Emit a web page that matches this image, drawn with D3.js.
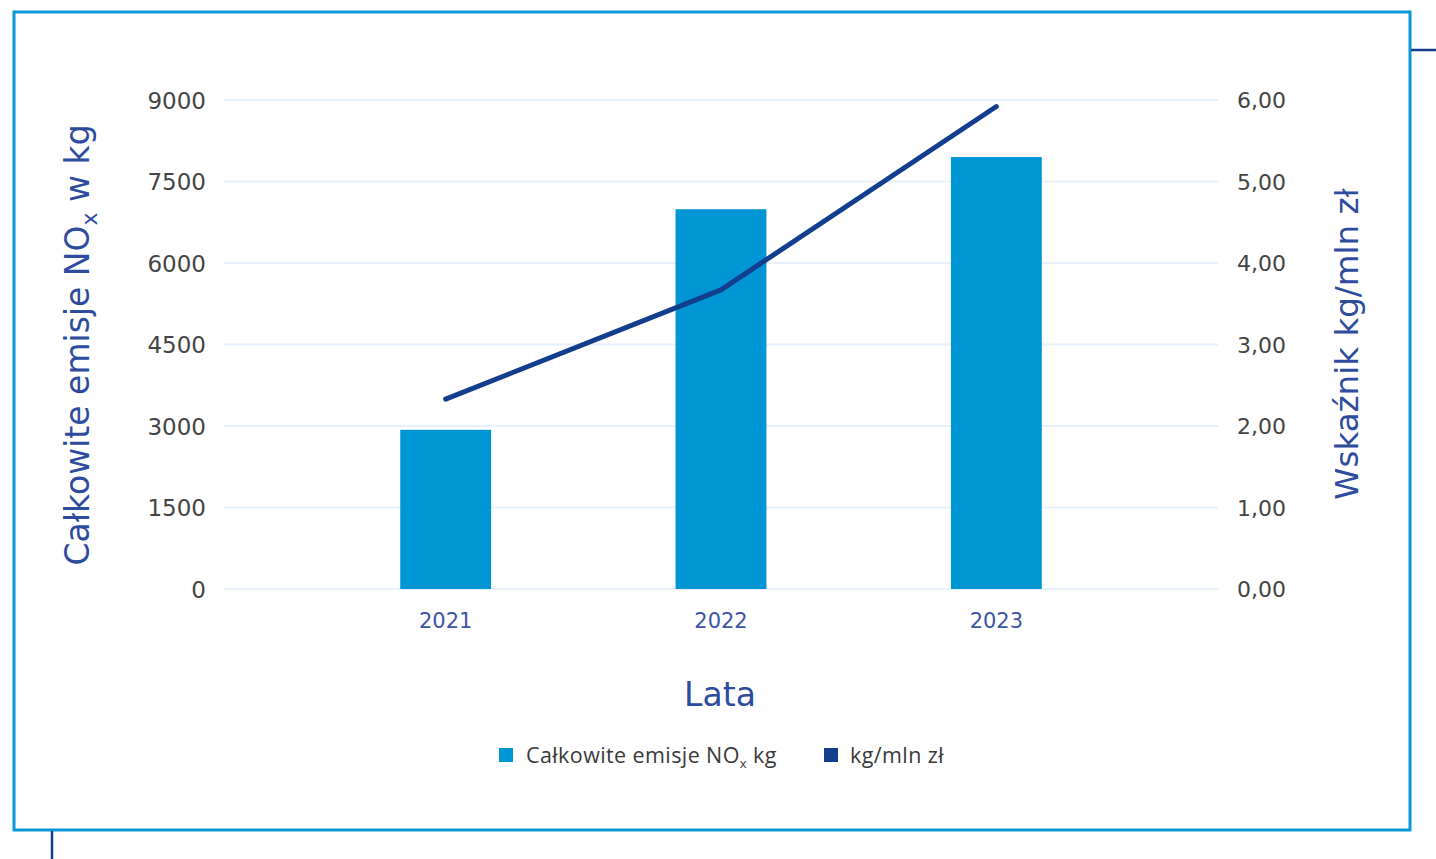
<!DOCTYPE html>
<html>
<head>
<meta charset="utf-8">
<script src="https://cdn.jsdelivr.net/npm/d3@7/dist/d3.min.js"></script>
<style>
  html, body { margin: 0; padding: 0; background: #fff; }
  svg { display: block; }
</style>
</head>
<body>
<svg id="chart" width="1436" height="859"></svg>
<script>
// Lata i wartości emisji NOx
const years = ["2021", "2022", "2023"];
const totalEmissions = [2930, 6990, 7950];     // kg
const intensity = [2.33, 3.67, 5.92];          // kg/mln zł
const leftTicks = [0, 1500, 3000, 4500, 6000, 7500, 9000];
const rightTicks = [0, 1, 2, 3, 4, 5, 6];

const barColor = "#0096d6";
const lineColor = "#133d8d";
const titleColor = "#2e4c9e";
const tickColor = "#444";
const font = "'DejaVu Sans', sans-serif";

const svg = d3.select("#chart");

// Frame
svg.append("rect")
  .attr("x", 14).attr("y", 12).attr("width", 1396).attr("height", 818)
  .attr("fill", "none").attr("stroke", "#0a98d8").attr("stroke-width", 3);
svg.append("line").attr("x1", 1411).attr("x2", 1436).attr("y1", 50).attr("y2", 50)
  .attr("stroke", lineColor).attr("stroke-width", 2.5);
svg.append("line").attr("x1", 52).attr("x2", 52).attr("y1", 831).attr("y2", 859)
  .attr("stroke", lineColor).attr("stroke-width", 2.5);

const plotLeft = 224, plotRight = 1218, plotTop = 100, plotBottom = 589;

const x = d3.scaleBand().domain(years).range([plotLeft, plotRight])
  .paddingInner(0.67).paddingOuter(0.64);
const yLeft = d3.scaleLinear().domain([0, 9000]).range([plotBottom, plotTop]);
const yRight = d3.scaleLinear().domain([0, 6]).range([plotBottom, plotTop]);

// Grid lines
svg.append("g").selectAll("line").data(leftTicks).join("line")
  .attr("x1", plotLeft).attr("x2", plotRight)
  .attr("y1", d => yLeft(d)).attr("y2", d => yLeft(d))
  .attr("stroke", "#e8f1fb").attr("stroke-width", 2);

// Left axis
const leftAxis = svg.append("g").attr("transform", `translate(${plotLeft - 18},0)`)
  .call(d3.axisLeft(yLeft).tickValues(leftTicks).tickSize(0).tickPadding(0).tickFormat(d3.format("d")));
leftAxis.select(".domain").remove();
leftAxis.selectAll("text").attr("font-family", font).attr("font-size", 23)
  .attr("fill", tickColor).attr("dy", "0.36em");

// Right axis
const rightAxis = svg.append("g").attr("transform", `translate(${plotRight + 19},0)`)
  .call(d3.axisRight(yRight).tickValues(rightTicks).tickSize(0).tickPadding(0)
    .tickFormat(d => d3.format(".2f")(d).replace(".", ",")));
rightAxis.select(".domain").remove();
rightAxis.selectAll("text").attr("font-family", font).attr("font-size", 22)
  .attr("fill", tickColor).attr("dy", "0.36em");

// Bottom axis
const bottomAxis = svg.append("g").attr("transform", `translate(0,${plotBottom})`)
  .call(d3.axisBottom(x).tickSize(0).tickPadding(0));
bottomAxis.select(".domain").remove();
bottomAxis.selectAll("text").attr("font-family", font).attr("font-size", 21)
  .attr("fill", "#3d55a5").attr("dy", "1.85em");

// Bars
svg.append("g").selectAll("rect").data(years).join("rect")
  .attr("x", d => x(d))
  .attr("y", (d, i) => yLeft(totalEmissions[i]))
  .attr("width", x.bandwidth())
  .attr("height", (d, i) => yLeft(0) - yLeft(totalEmissions[i]))
  .attr("fill", barColor);

// Line
const line = d3.line()
  .x((d, i) => x(years[i]) + x.bandwidth() / 2)
  .y(d => yRight(d));
svg.append("path").datum(intensity)
  .attr("d", line)
  .attr("fill", "none").attr("stroke", lineColor)
  .attr("stroke-width", 5).attr("stroke-linecap", "round").attr("stroke-linejoin", "round");

// Axis titles
const leftTitle = svg.append("text")
  .attr("transform", `translate(89,345) rotate(-90)`)
  .attr("text-anchor", "middle").attr("font-family", font).attr("font-size", 33)
  .attr("fill", titleColor);
leftTitle.append("tspan").text("Całkowite emisje NO");
leftTitle.append("tspan").attr("font-size", 22).attr("dy", 8).text("x");
leftTitle.append("tspan").attr("dy", -8).text(" w kg");

svg.append("text")
  .attr("transform", `translate(1358,344) rotate(-90)`)
  .attr("text-anchor", "middle").attr("font-family", font).attr("font-size", 32.5)
  .attr("fill", titleColor).text("Wskaźnik kg/mln zł");

svg.append("text")
  .attr("x", (plotLeft + plotRight) / 2 - 1).attr("y", 706)
  .attr("text-anchor", "middle").attr("font-family", font).attr("font-size", 33)
  .attr("fill", titleColor).text("Lata");

// Legend
const legend = svg.append("g").attr("font-family", "'Open Sans', sans-serif").attr("font-size", 21.5).attr("fill", "#3a3a3a");
legend.append("rect").attr("x", 499).attr("y", 748).attr("width", 14).attr("height", 14).attr("fill", barColor);
const lt = legend.append("text").attr("x", 526).attr("y", 763).attr("letter-spacing", 0.4);
lt.append("tspan").text("Całkowite emisje NO");
lt.append("tspan").attr("font-size", 13).attr("dy", 5).text("x");
lt.append("tspan").attr("dy", -5).text(" kg");
legend.append("rect").attr("x", 824).attr("y", 748).attr("width", 14).attr("height", 14).attr("fill", lineColor);
legend.append("text").attr("x", 850).attr("y", 763).attr("letter-spacing", 0.4).text("kg/mln zł");
</script>
</body>
</html>
